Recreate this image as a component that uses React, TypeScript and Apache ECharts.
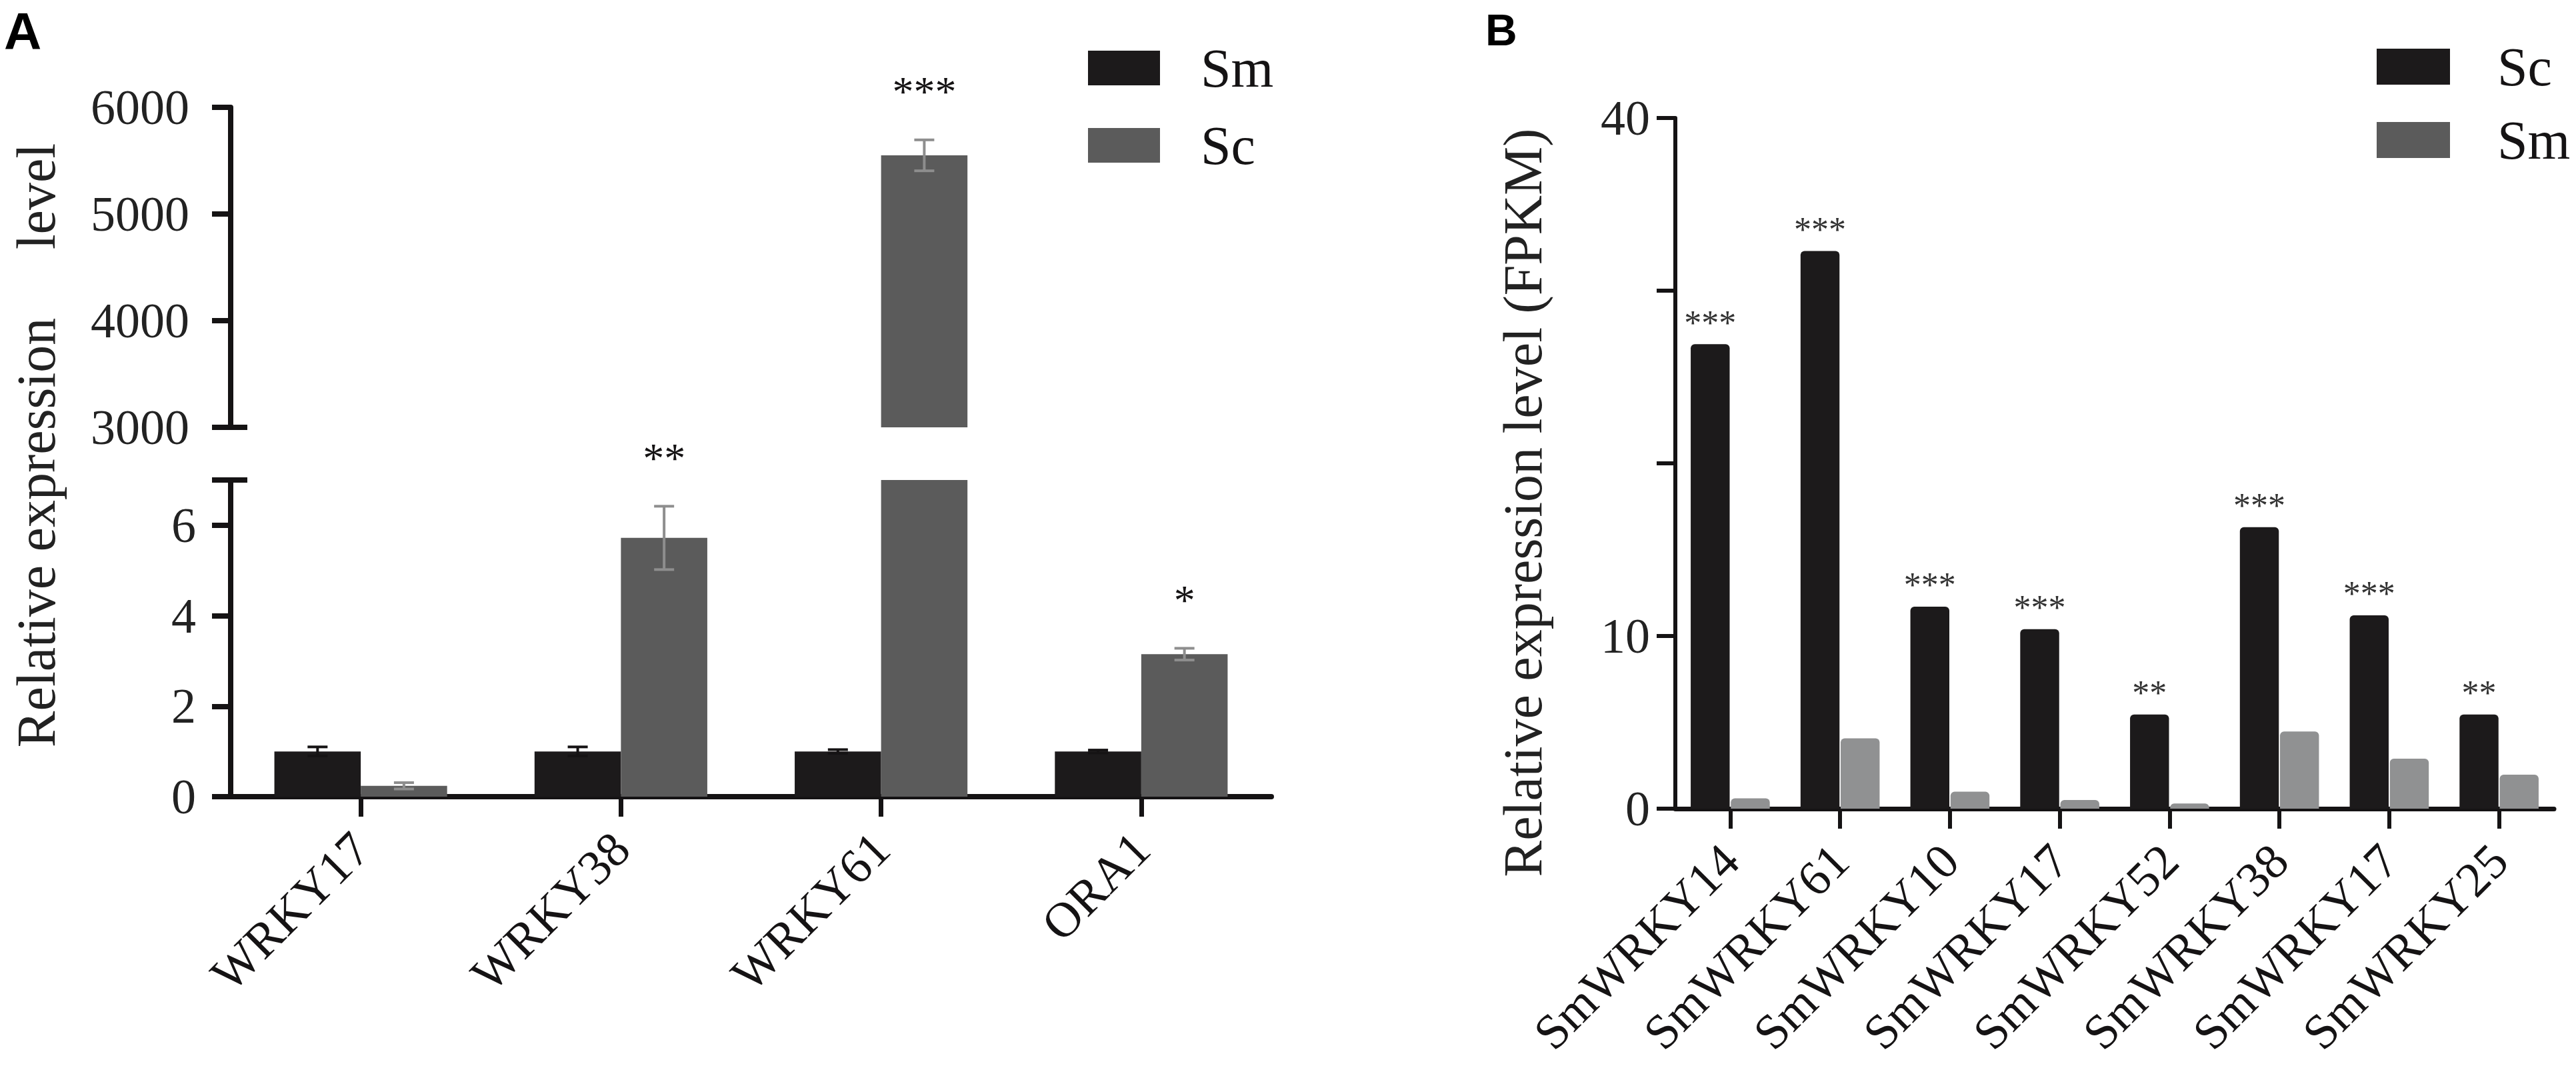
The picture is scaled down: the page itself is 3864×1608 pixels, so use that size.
import React, { useEffect, useRef } from "react";
import * as echarts from "echarts";

// ---------- Panel A data ----------
const genesA = ["WRKY17", "WRKY38", "WRKY61", "ORA1"];
const smMeanA = [1.0, 1.0, 1.0, 1.0];
const smErrA = [0.1, 0.1, 0.04, 0.03];
const scMeanA = [0.24, 5.72, 5550, 3.15];
const scErrA = [0.07, 0.7, 145, 0.13];
const sigA = ["", "**", "***", "*"];
const lowMaxA = 7;
const upMinA = 3000;
const upMaxA = 6000;

// ---------- Panel B data ----------
const genesB = ["SmWRKY14", "SmWRKY61", "SmWRKY10", "SmWRKY17", "SmWRKY52", "SmWRKY38", "SmWRKY17", "SmWRKY25"];
const scB = [26.9, 32.3, 11.7, 10.4, 5.45, 16.3, 11.2, 5.45];
const smB = [0.6, 4.07, 0.98, 0.5, 0.3, 4.47, 2.9, 1.97];
const sigB = ["***", "***", "***", "***", "**", "***", "***", "**"];
const yLabelsB = [0, 10, 40];

const INK = "#151314";
const DARK_A = "#1c1a1b";
const GREY_A = "#5b5b5b";
const ERR_GREY = "#8e8e8e";
const SM_B = "#909192";
const SERIF = "'Liberation Serif', 'Times New Roman', serif";
const SANS = "'Liberation Sans', Arial, sans-serif";

const A_LEFT = 346;
const BAND_OFF = 0.166;

function errRender(params: any, api: any) {
  const i = api.value(0);
  const mean = api.value(1);
  const err = api.value(2);
  const side = api.value(3);
  const band = api.size([1, 0])[0];
  const c = api.coord([i, mean]);
  const x = c[0] + side * band * BAND_OFF;
  const yTop = api.coord([i, mean + err])[1];
  const yBot = api.coord([i, mean - err])[1];
  const color = side < 0 ? INK : ERR_GREY;
  const cap = 15;
  const lw = 4;
  const children: any[] = [
    { type: "line", shape: { x1: x, y1: yTop, x2: x, y2: yBot }, style: { stroke: color, lineWidth: lw } },
    { type: "line", shape: { x1: x - cap, y1: yTop, x2: x + cap, y2: yTop }, style: { stroke: color, lineWidth: lw } },
    { type: "line", shape: { x1: x - cap, y1: yBot, x2: x + cap, y2: yBot }, style: { stroke: color, lineWidth: lw } },
  ];
  if (side > 0 && sigA[i]) {
    children.push({
      type: "text",
      x: x,
      y: yTop - 72,
      style: { text: sigA[i], fontSize: 64, fontFamily: SERIF, fill: INK, align: "center", verticalAlign: "middle" },
    });
  }
  return { type: "group", children };
}

export default function App() {
  const ref = useRef<HTMLDivElement>(null);

  useEffect(() => {
    document.body.style.margin = "0";
    const chart = echarts.init(ref.current!, null, { renderer: "svg" });

    const lowErr: any[] = [];
    const upErr: any[] = [];
    genesA.forEach((_, i) => {
      const pairs: [number, number, number][] = [
        [smMeanA[i], smErrA[i], -1],
        [scMeanA[i], scErrA[i], 1],
      ];
      pairs.forEach(([m, e, s]) => {
        if (m + e <= lowMaxA) lowErr.push([i, m, e, s]);
        else if (m - e >= upMinA) upErr.push([i, m, e, s]);
      });
    });

    const axisLbl = { fontSize: 74, fontFamily: SERIF, color: "#222" };

    const option: any = {
      animation: false,
      backgroundColor: "#ffffff",
      grid: [
        { left: A_LEFT, top: 720, width: 1561, height: 475 },
        { left: A_LEFT, top: 161, width: 1561, height: 480 },
        { left: 2513, top: 177, width: 1318, height: 1036 },
      ],
      legend: [
        {
          left: 1632, top: 61, orient: "vertical", padding: 0, icon: "rect",
          itemWidth: 108, itemHeight: 52, itemGap: 34, selectedMode: false,
          data: [
            { name: "Sm", itemStyle: { color: DARK_A } },
            { name: "Sc", itemStyle: { color: GREY_A } },
          ],
          textStyle: { fontSize: 82, fontFamily: SERIF, color: INK, padding: [0, 0, 0, 56] },
        },
        {
          left: 3565, top: 59, orient: "vertical", padding: 0, icon: "rect",
          itemWidth: 110, itemHeight: 54, itemGap: 28, selectedMode: false,
          data: [
            { name: "Sc", itemStyle: { color: DARK_A } },
            { name: "Sm", itemStyle: { color: GREY_A } },
          ],
          textStyle: { fontSize: 82, fontFamily: SERIF, color: INK, padding: [0, 0, 0, 66] },
        },
      ],
      xAxis: [
        {
          gridIndex: 0, type: "category", data: genesA,
          axisLine: { show: true, lineStyle: { color: INK, width: 8 } },
          axisTick: { show: true, alignWithLabel: true, length: 30, lineStyle: { color: INK, width: 7 } },
          axisLabel: { ...axisLbl, color: INK, rotate: 45, margin: 66, interval: 0 },
        },
        { gridIndex: 1, type: "category", data: genesA, show: false },
        {
          gridIndex: 2, type: "category", data: genesB,
          axisLine: { show: true, lineStyle: { color: INK, width: 7 } },
          axisTick: { show: true, alignWithLabel: true, length: 30, lineStyle: { color: INK, width: 6 } },
          axisLabel: { ...axisLbl, color: INK, rotate: 45, margin: 66, interval: 0 },
        },
      ],
      yAxis: [
        {
          gridIndex: 0, type: "value", min: 0, max: lowMaxA, interval: 2,
          axisLine: { show: true, lineStyle: { color: INK, width: 8 } },
          axisTick: { show: true, length: 28, lineStyle: { color: INK, width: 8 } },
          splitLine: { show: false },
          axisLabel: { ...axisLbl, margin: 52, formatter: (v: number) => (v > 6 ? "" : String(v)) },
        },
        {
          gridIndex: 1, type: "value", min: upMinA, max: upMaxA, interval: 1000,
          axisLine: { show: true, lineStyle: { color: INK, width: 8 } },
          axisTick: { show: true, length: 28, lineStyle: { color: INK, width: 8 } },
          splitLine: { show: false },
          axisLabel: { ...axisLbl, margin: 62, formatter: (v: number) => String(v) },
        },
        {
          gridIndex: 2, type: "value", min: 0, max: 40, interval: 10,
          axisLine: { show: true, lineStyle: { color: INK, width: 6 } },
          axisTick: { show: true, length: 28, lineStyle: { color: INK, width: 6 } },
          splitLine: { show: false },
          axisLabel: { ...axisLbl, margin: 38, formatter: (v: number) => (yLabelsB.indexOf(v) >= 0 ? String(v) : "") },
        },
      ],
      series: [
        {
          type: "bar", name: "Sm", xAxisIndex: 0, yAxisIndex: 0, data: smMeanA, clip: true,
          barGap: "0%", barCategoryGap: "33.6%", itemStyle: { color: DARK_A },
        },
        {
          type: "bar", name: "Sc", xAxisIndex: 0, yAxisIndex: 0, data: scMeanA, clip: true,
          barGap: "0%", barCategoryGap: "33.6%", itemStyle: { color: GREY_A },
        },
        {
          type: "bar", name: "Sm", xAxisIndex: 1, yAxisIndex: 1, clip: true,
          data: smMeanA.map((v) => (v >= upMinA ? v : "-")),
          barGap: "0%", barCategoryGap: "33.6%", itemStyle: { color: DARK_A },
        },
        {
          type: "bar", name: "Sc", xAxisIndex: 1, yAxisIndex: 1, clip: true,
          data: scMeanA.map((v) => (v >= upMinA ? v : "-")),
          barGap: "0%", barCategoryGap: "33.6%", itemStyle: { color: GREY_A },
        },
        {
          type: "custom", xAxisIndex: 0, yAxisIndex: 0, data: lowErr, renderItem: errRender, z: 5,
          encode: { x: 0, y: 1 }, silent: true,
        },
        {
          type: "custom", xAxisIndex: 1, yAxisIndex: 1, data: upErr, renderItem: errRender, z: 5,
          encode: { x: 0, y: 1 }, silent: true,
        },
        {
          type: "bar", name: "Sc", xAxisIndex: 2, yAxisIndex: 2, data: scB,
          barGap: "3%", barCategoryGap: "28%",
          itemStyle: { color: DARK_A, borderRadius: [6, 6, 0, 0] },
          label: {
            show: true, position: "top", distance: 6,
            formatter: (p: any) => sigB[p.dataIndex],
            fontSize: 52, fontFamily: SERIF, color: "#333",
          },
        },
        {
          type: "bar", name: "Sm", xAxisIndex: 2, yAxisIndex: 2, data: smB,
          barGap: "3%", barCategoryGap: "28%",
          itemStyle: { color: SM_B, borderRadius: [6, 6, 0, 0] },
        },
      ],
      graphic: [
        {
          type: "text", id: "labelA", left: 6, top: 8,
          style: { text: "A", fontSize: 78, fontWeight: "bold", fontFamily: SANS, fill: "#000" },
        },
        {
          type: "text", id: "labelB", left: 2228, top: 12,
          style: { text: "B", fontSize: 66, fontWeight: "bold", fontFamily: SANS, fill: "#000" },
        },
        {
          type: "text", id: "titleA", x: 54, y: 668, rotation: Math.PI / 2,
          style: {
            text: "Relative expression\u00a0\u00a0\u00a0\u00a0\u00a0level",
            fontSize: 82, fontFamily: SERIF, fill: "#222", align: "center", verticalAlign: "middle",
          },
        },
        {
          type: "text", id: "titleB", x: 2284, y: 754, rotation: Math.PI / 2,
          style: {
            text: "Relative expression level (FPKM)",
            fontSize: 82, fontFamily: SERIF, fill: "#222", align: "center", verticalAlign: "middle",
          },
        },
      ],
    };

    chart.setOption(option);

    // axis-break caps extending to the right of the y axis
    const yTop = chart.convertToPixel({ yAxisIndex: 0 }, lowMaxA) as number;
    const yBot = chart.convertToPixel({ yAxisIndex: 1 }, upMinA) as number;
    chart.setOption({
      graphic: [
        {
          type: "line", id: "capLow",
          shape: { x1: A_LEFT - 28, y1: yTop, x2: A_LEFT + 25, y2: yTop },
          style: { stroke: INK, lineWidth: 8 },
        },
        {
          type: "line", id: "capUp",
          shape: { x1: A_LEFT - 28, y1: yBot, x2: A_LEFT + 25, y2: yBot },
          style: { stroke: INK, lineWidth: 8 },
        },
      ],
    });

    return () => chart.dispose();
  }, []);

  return <div ref={ref} style={{ width: 3864, height: 1608 }} />;
}
